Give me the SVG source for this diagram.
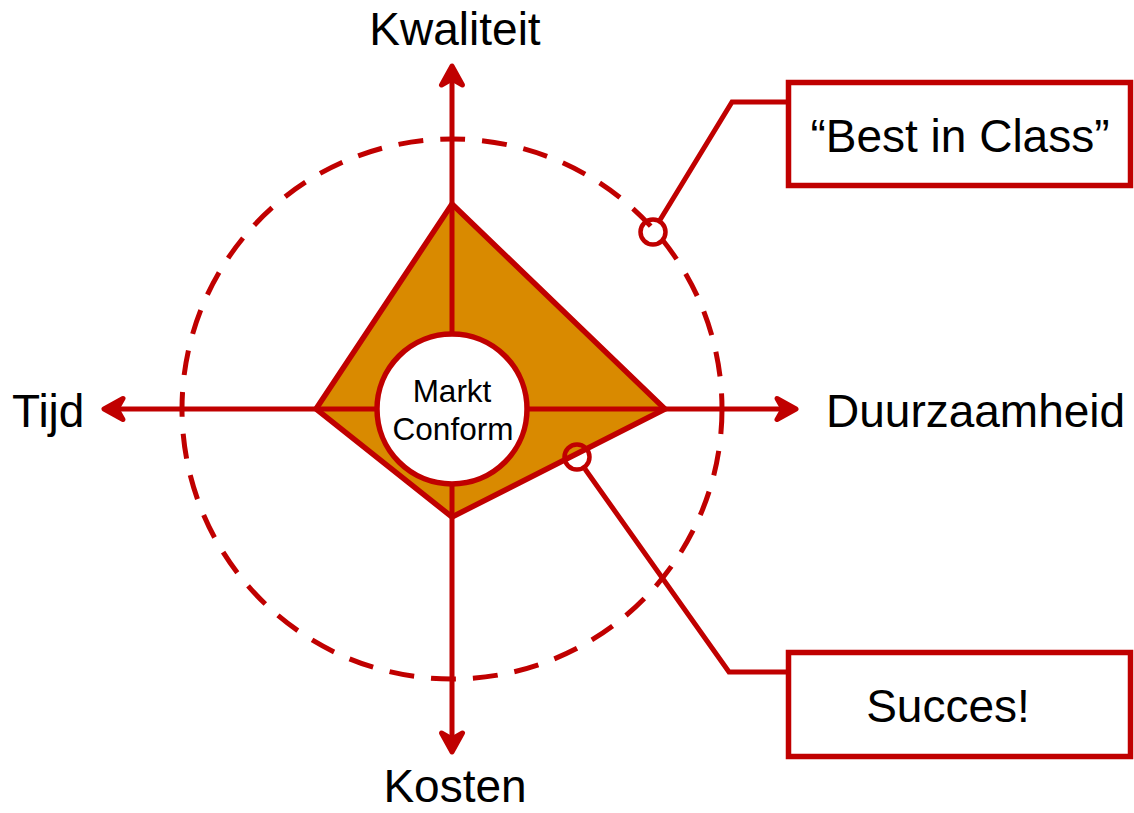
<svg xmlns="http://www.w3.org/2000/svg" width="1134" height="813" viewBox="0 0 1134 813">
<style>
.red{stroke:#C00000;stroke-width:5;fill:none}
.lbl{font-family:"Liberation Sans",Arial,sans-serif;font-size:46px;fill:#000}
.box{fill:#fff;stroke:#C00000;stroke-width:5.5}
</style>
<defs>
<marker id="ah" markerUnits="userSpaceOnUse" viewBox="-25 -15 30 30" markerWidth="30" markerHeight="30" refX="-2" refY="0" orient="auto-start-reverse">
<path d="M0,0 L-19,-10.5 L-13,0 L-19,10.5 Z" fill="#C00000" stroke="#C00000" stroke-width="5" stroke-linejoin="round"/>
</marker>
</defs>
<rect width="1134" height="813" fill="#fff"/>
<g id="ring">
<circle cx="452" cy="409" r="270" class="red" stroke-width="5.5" stroke-dasharray="25 17"/>
</g>
<g id="shape">
<polygon points="452,204 665,409 452,517 316,409" fill="#D98A00" stroke="#C00000" stroke-width="5.5" stroke-linejoin="miter"/>
</g>
<g id="connectors">
<line x1="452" y1="68" x2="452" y2="750" class="red" marker-start="url(#ah)" marker-end="url(#ah)"/>
<line x1="106" y1="409" x2="794" y2="409" class="red" marker-start="url(#ah)" marker-end="url(#ah)"/>
<polyline points="660,220 732,102 787,102" class="red"/>
<polyline points="585,469 729,672 787,672" class="red"/>
</g>
<g id="center">
<circle cx="452" cy="409" r="75" fill="#fff" stroke="#C00000" stroke-width="5.5"/>
<text x="452" y="402" text-anchor="middle" font-family="Liberation Sans,Arial,sans-serif" font-size="31.5">Markt</text>
<text x="453" y="440" text-anchor="middle" font-family="Liberation Sans,Arial,sans-serif" font-size="31.5">Conform</text>
</g>
<g id="markers">
<circle cx="653" cy="232" r="12.5" fill="none" stroke="#C00000" stroke-width="4.5"/>
<circle cx="577" cy="457" r="12.5" fill="none" stroke="#C00000" stroke-width="4.5"/>
</g>
<g id="labels">
<text class="lbl" x="455" y="45" text-anchor="middle">Kwaliteit</text>
<text class="lbl" x="826" y="427">Duurzaamheid</text>
<text class="lbl" x="12" y="427">Tijd</text>
<text class="lbl" x="455" y="802" text-anchor="middle">Kosten</text>
</g>
<g id="best">
<rect x="788.5" y="82.5" width="342" height="103" class="box"/>
<text class="lbl" x="960" y="152" text-anchor="middle">“Best in Class”</text>
</g>
<g id="succes">
<rect x="788.5" y="652.5" width="342" height="104" class="box"/>
<text class="lbl" x="948" y="722" text-anchor="middle">Succes!</text>
</g>
</svg>
